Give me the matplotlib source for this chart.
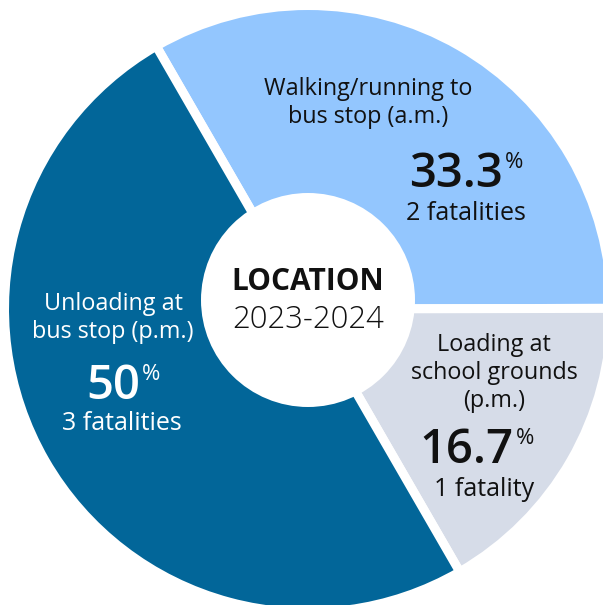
import matplotlib
matplotlib.use("Agg")
import matplotlib.pyplot as plt
from matplotlib.patches import Circle

plt.rcParams['font.family'] = ['Open Sans', 'DejaVu Sans']

# ---- data ----
categories = ["Walking/running to\nbus stop (a.m.)",
              "Loading at\nschool grounds\n(p.m.)",
              "Unloading at\nbus stop (p.m.)"]
percent_labels = ["33.3", "16.7", "50"]
values = [33.3, 16.7, 50.0]
fatality_labels = ["2 fatalities", "1 fatality", "3 fatalities"]
colors = ["#93C6FE", "#D6DCE8", "#026699"]
text_colors = ["#111111", "#111111", "#FFFFFF"]
center_title = "LOCATION"
center_sub = "2023-2024"

W, H = 603, 605
fig = plt.figure(figsize=(W / 100, H / 100), dpi=100)
ax = fig.add_axes([0, 0, 1, 1])

def Y(p):
    return H - p

cx, cy, R = 308, Y(309), 303.5
ax.pie(values, colors=colors, startangle=120, counterclock=False,
       center=(cx, cy), radius=R,
       wedgeprops=dict(edgecolor="white", linewidth=6.5))
ax.add_patch(Circle((308, Y(300)), 107, facecolor="white", edgecolor="none", zorder=5))

ax.set_xlim(0, W)
ax.set_ylim(0, H)
ax.set_aspect("equal")
ax.axis("off")

# label layout (pixel positions)
label_pos = [(368, 103), (494, 373), (113, 318)]
num_pos = [(503, 187), (514, 463), (140, 399)]
fat_pos = [(466, 214), (484, 490), (122, 423)]

for i in range(len(values)):
    tc = text_colors[i]
    lx, ly = label_pos[i]
    ax.text(lx, Y(ly), categories[i], ha="center", va="center", fontsize=16.8,
            color=tc, linespacing=1.2, zorder=6)
    nx, ny = num_pos[i]
    ax.text(nx, Y(ny), percent_labels[i], ha="right", va="baseline", fontsize=34,
            fontweight="semibold", color=tc, zorder=6)
    ax.text(nx + 2, Y(ny - 35), "%", ha="left", va="top", fontsize=16,
            color=tc, zorder=6)
    fx, fy = fat_pos[i]
    ax.text(fx, Y(fy), fatality_labels[i], ha="center", va="center", fontsize=18,
            color=tc, zorder=6)

ax.text(308, Y(282), center_title, ha="center", va="center", fontsize=21.5,
        fontweight="bold", color="#111111", zorder=7)
ax.text(308, Y(320), center_sub, ha="center", va="center", fontsize=22.3,
        fontweight="light", color="#111111", zorder=7)

fig.savefig("out.png", dpi=100, facecolor="white")
